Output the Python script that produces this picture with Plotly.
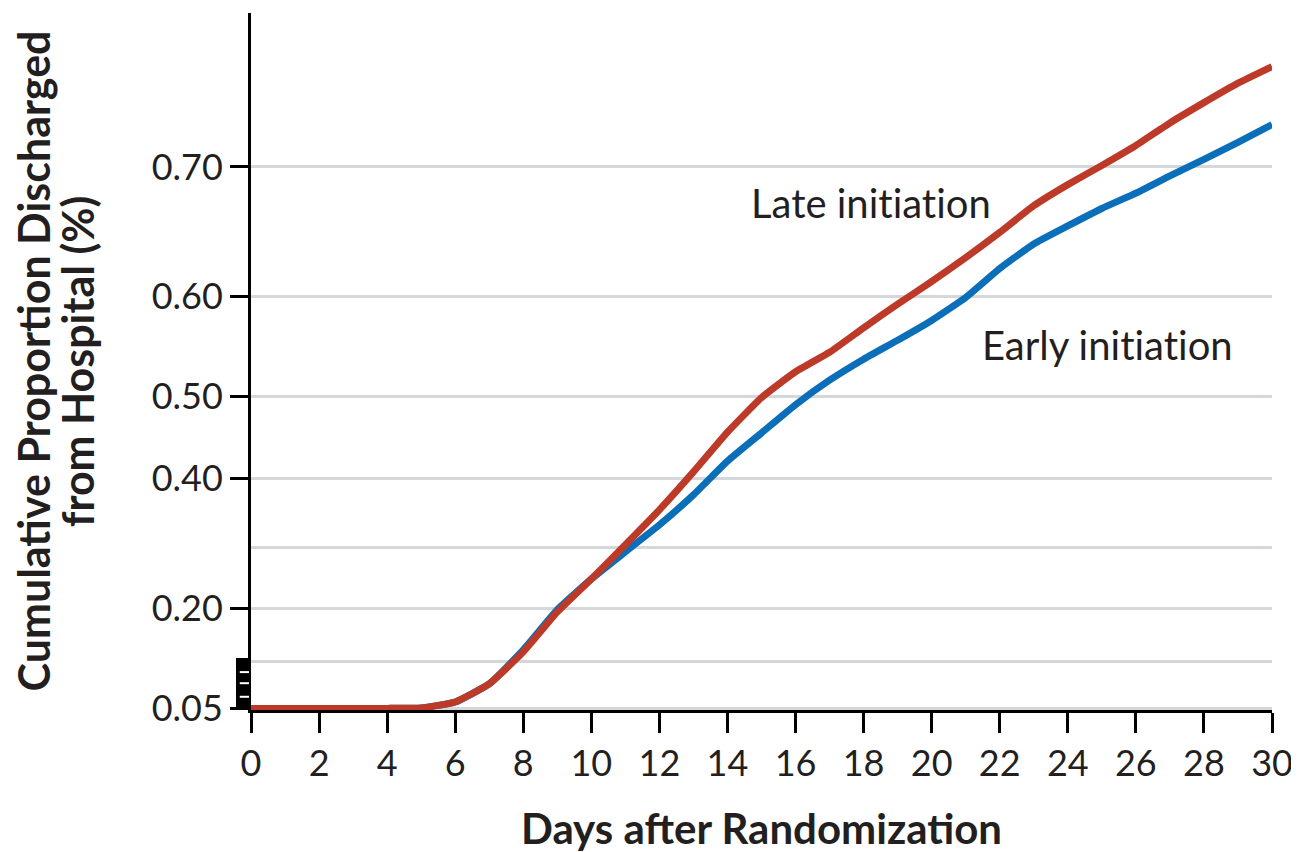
import numpy as np
import plotly.graph_objects as go

# ---- data (proportions) ----
days = list(range(0, 31))
late_initiation = [0.0, 0.0, 0.0, 0.0, 0.0, 0.001, 0.014, 0.053, 0.118, 0.193,
                   0.250, 0.305, 0.357, 0.409, 0.459, 0.499, 0.527, 0.547, 0.571, 0.593,
                   0.613, 0.633, 0.653, 0.673, 0.688, 0.701, 0.714, 0.728, 0.740, 0.751, 0.760]
early_initiation = [0.0, 0.0, 0.0, 0.0, 0.0, 0.001, 0.014, 0.053, 0.122, 0.197,
                    0.250, 0.294, 0.335, 0.378, 0.423, 0.458, 0.491, 0.518, 0.540, 0.559,
                    0.578, 0.599, 0.624, 0.644, 0.658, 0.671, 0.682, 0.694, 0.705, 0.716, 0.727]

# y-axis ticks (proportion scale, cumulative-hazard spacing)
tick_props = [0.0, 0.20, 0.40, 0.50, 0.60, 0.70]
tick_labels = ["0.05", "0.20", "0.40", "0.50", "0.60", "0.70"]
extra_grid_props = [0.10, 0.30]
x_ticks = list(range(0, 31, 2))

ZWNJ = "\u200c"  # prevents the 'ti' ligature of the font


def ungature(s):
    return s.replace("ti", "t" + ZWNJ + "i")


def scale(p):
    """Axis transform: -ln(1 - p)."""
    return -np.log(1.0 - np.asarray(p, dtype=float))


TEXT = "#231f20"
RED = "#bd3a28"
BLUE = "#0a6fb8"
GRID = "#d5d8da"
FONT = "Lato"

fig = go.Figure()
fig.add_trace(go.Scatter(x=days, y=scale(early_initiation), mode="lines",
                         line=dict(color=BLUE, width=7, shape="spline", smoothing=0.4),
                         name="Early initiation", showlegend=False))
fig.add_trace(go.Scatter(x=days, y=scale(late_initiation), mode="lines",
                         line=dict(color=RED, width=7, shape="spline", smoothing=0.4),
                         name="Late initiation", showlegend=False))

y_lo, y_hi = -0.0036, 1.5464

fig.update_layout(
    width=1291, height=844,
    margin=dict(l=243, r=27, t=5, b=142),
    paper_bgcolor="white", plot_bgcolor="white",
    font=dict(family=FONT, color=TEXT, size=35),
    xaxis=dict(range=[0, 30], tickmode="array", tickvals=x_ticks,
               ticktext=[str(v) for v in x_ticks],
               showline=True, linecolor="black", linewidth=3,
               ticks="outside", ticklen=20, tickwidth=3, tickcolor="black",
               showgrid=False, zeroline=False,
               tickfont=dict(family=FONT, size=36, color=TEXT)),
    yaxis=dict(range=[y_lo, y_hi], tickmode="array",
               tickvals=list(scale(tick_props)), ticktext=tick_labels,
               showline=True, linecolor="black", linewidth=3,
               ticks="outside", ticklen=18, tickwidth=3, tickcolor="black",
               showgrid=True, gridcolor=GRID, gridwidth=3, zeroline=False,
               tickfont=dict(family=FONT, size=36, color=TEXT),
               minor=dict(tickmode="array", tickvals=list(scale(extra_grid_props)),
                          showgrid=True, gridcolor=GRID, gridwidth=3, ticks="")),
)

# axis break glyph on the left of the y-axis, below the 0.10 level
brk_top = float(scale(0.106))
fig.add_shape(type="rect", xref="paper", yref="y",
              x0=-0.0147, x1=0.0, y0=0.003, y1=brk_top,
              fillcolor="black", line=dict(width=0), layer="above")
for frac in [0.23, 0.50, 0.72]:
    yy = brk_top * frac
    fig.add_shape(type="line", xref="paper", yref="y",
                  x0=-0.0110, x1=-0.0020, y0=yy, y1=yy,
                  line=dict(color="white", width=2), layer="above")

# axis titles
fig.add_annotation(text="<b>Days after Randomization</b>", xref="paper", yref="paper",
                   x=0.5, y=-0.1695, xanchor="center", yanchor="middle", showarrow=False,
                   font=dict(family=FONT, size=42, color=TEXT))
fig.add_annotation(text="<b>Cumulative Proportion Discharged</b>",
                   xref="paper", yref="paper", x=-0.2135, y=0.5, textangle=-90,
                   xanchor="center", yanchor="middle", showarrow=False,
                   font=dict(family=FONT, size=43, color=TEXT))
fig.add_annotation(text="<b>from Hospital (%)</b>",
                   xref="paper", yref="paper", x=-0.1700, y=0.5, textangle=-90,
                   xanchor="center", yanchor="middle", showarrow=False,
                   font=dict(family=FONT, size=43, color=TEXT))

# series labels
fig.add_annotation(text=ungature("Late initiation"), x=18.22, y=1.124, xref="x", yref="y",
                   showarrow=False, xanchor="center", yanchor="middle",
                   font=dict(family=FONT, size=40, color=TEXT))
fig.add_annotation(text=ungature("Early initiation"), x=25.18, y=0.808, xref="x", yref="y",
                   showarrow=False, xanchor="center", yanchor="middle",
                   font=dict(family=FONT, size=40, color=TEXT))

fig.write_html("out.html")
